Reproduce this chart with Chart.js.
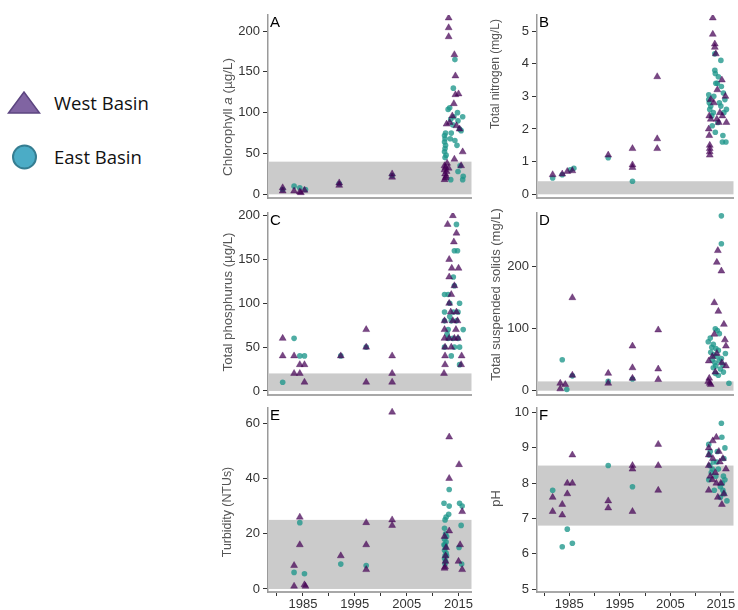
<!DOCTYPE html>
<html>
<head>
<meta charset="utf-8">
<script src="https://cdn.jsdelivr.net/npm/chart.js@4.4.1/dist/chart.umd.min.js"></script>
<style>
  html, body { margin: 0; padding: 0; background: #fff; overflow: hidden; }
  #wrap { position: relative; width: 738px; height: 610px; }
  #wrap canvas { position: absolute; }
  .leg { position: absolute; left: 0; height: 30px; }
  .leg svg { position: absolute; left: 0; top: 0; }
  .leg span { position: absolute; left: 54px; top: 2px; font: 18.5px "Open Sans", sans-serif; color: #111; white-space: nowrap; }
</style>
</head>
<body>
<div id="wrap">
  <div class="leg" style="top:88px">
    <svg width="44" height="30"><polygon points="8.5,25 24,4 39.5,25" fill="#8064a2" stroke="#5c4580" stroke-width="1.5"/></svg>
    <span>West Basin</span>
  </div>
  <div class="leg" style="top:142px">
    <svg width="44" height="30"><circle cx="24.5" cy="15" r="11.5" fill="#4bacc6" stroke="#357d91" stroke-width="2"/></svg>
    <span>East Basin</span>
  </div>
  <canvas id="cA" width="276" height="205" style="left:200px;top:0px"></canvas>
  <canvas id="cB" width="258" height="205" style="left:480px;top:0px"></canvas>
  <canvas id="cC" width="276" height="195" style="left:200px;top:205px"></canvas>
  <canvas id="cD" width="258" height="195" style="left:480px;top:205px"></canvas>
  <canvas id="cE" width="276" height="210" style="left:200px;top:400px"></canvas>
  <canvas id="cF" width="258" height="210" style="left:480px;top:400px"></canvas>
</div>
<script>
// x axis
const xTickYears = [1980, 1985, 1990, 1995, 2000, 2005, 2010, 2015];
const xLabelYears = [1985, 1995, 2005, 2015];

// A - chlorophyll a (ug/L)
const chlTicks = [0, 50, 100, 150, 200];
const chlBand = [0, 40];
const chlWest = [[1981.1, 8], [1981.1, 4], [1983.3, 4], [1984.4, 3], [1984.6, 2], [1985.3, 5], [1992.0, 14], [1992.0, 11],
  [2002.2, 25], [2002.2, 21], [2013.1, 216], [2013.1, 204], [2013.1, 193], [2014.2, 171], [2014.4, 145], [2014.4, 122],
  [2015.0, 123], [2014.1, 111], [2013.8, 96], [2012.7, 86], [2015.8, 52], [2014.2, 43], [2012.3, 35], [2012.5, 33],
  [2012.3, 30], [2012.7, 28], [2012.4, 25], [2012.6, 22], [2012.3, 18], [2013.1, 32], [2015.2, 80], [2013.3, 88],
  [2014.6, 84], [2015.5, 35], [2012.5, 20], [2012.8, 38]];
const chlEast = [[1981.1, 6], [1983.3, 10], [1984.4, 8], [1985.5, 6], [1992.0, 13], [2002.2, 23], [2014.3, 165], [2014.0, 130],
  [2013.3, 106], [2013.0, 104], [2014.8, 100], [2015.8, 95], [2013.5, 92], [2013.9, 85], [2015.2, 80], [2015.5, 78],
  [2012.5, 75], [2012.3, 72], [2012.4, 68], [2012.3, 64], [2012.5, 60], [2012.4, 56], [2012.3, 52], [2012.6, 48],
  [2012.4, 45], [2014.3, 66], [2014.7, 60], [2015.3, 35], [2015.9, 22], [2015.8, 18], [2013.5, 18], [2014.9, 28],
  [2013.4, 68], [2013.6, 75], [2014.1, 95], [2014.9, 90]];

// B - total nitrogen (mg/L)
const nitTicks = [0, 1, 2, 3, 4, 5];
const nitBand = [0, 0.4];
const nitWest = [[1981.7, 0.6], [1983.6, 0.62], [1984.6, 0.7], [1985.6, 0.72], [1992.7, 1.2], [1997.5, 1.4], [1997.5, 0.9],
  [1997.5, 0.82], [2002.4, 3.6], [2002.4, 1.7], [2002.4, 1.4], [2013.4, 5.4], [2013.4, 4.9], [2013.8, 4.6], [2013.8, 4.5],
  [2014.0, 4.3], [2015.2, 3.5], [2014.3, 3.2], [2015.9, 3.0], [2013.6, 2.8], [2014.8, 2.5], [2014.2, 2.3], [2013.0, 2.3],
  [2012.6, 2.0], [2016.1, 2.2], [2014.6, 2.2], [2012.7, 1.8], [2012.8, 1.5], [2012.8, 1.4], [2012.8, 1.3], [2012.8, 1.2],
  [2012.7, 2.4], [2015.3, 2.4], [2013.0, 2.9]];
const nitEast = [[1981.7, 0.5], [1983.6, 0.6], [1985.2, 0.75], [1985.9, 0.8], [1992.7, 1.12], [1997.5, 0.4], [2013.8, 4.3],
  [2015.0, 4.1], [2013.8, 3.8], [2013.9, 3.7], [2014.5, 3.6], [2014.0, 3.4], [2015.1, 3.3], [2015.5, 3.1], [2012.6, 3.05],
  [2012.6, 2.9], [2012.7, 2.8], [2015.0, 2.7], [2016.1, 2.6], [2012.8, 2.6], [2013.5, 2.5], [2015.6, 2.5], [2013.2, 2.4],
  [2014.4, 2.2], [2013.3, 2.1], [2013.9, 1.9], [2015.4, 1.8], [2016.0, 1.6], [2015.3, 1.6], [2013.0, 2.7], [2014.7, 2.8],
  [2015.8, 2.9], [2013.6, 3.0], [2014.3, 3.4]];

// C - total phosphorus (ug/L)
const phoTicks = [0, 50, 100, 150, 200];
const phoBand = [0, 20];
const phoWest = [[1981.1, 60], [1981.1, 40], [1983.3, 40], [1983.3, 20], [1984.4, 30], [1984.4, 20], [1985.3, 30], [1985.3, 10],
  [1992.3, 40], [1997.2, 70], [1997.2, 50], [1997.2, 10], [2002.2, 40], [2002.2, 20], [2002.2, 10], [2013.9, 200],
  [2012.9, 190], [2014.6, 180], [2014.1, 170], [2013.2, 150], [2013.7, 140], [2015.0, 140], [2013.2, 130], [2014.2, 120],
  [2013.6, 110], [2013.2, 100], [2014.6, 90], [2013.9, 80], [2014.8, 80], [2012.3, 70], [2012.3, 60], [2013.2, 60],
  [2014.2, 60], [2013.6, 50], [2012.4, 40], [2015.6, 40], [2012.4, 30], [2015.5, 30], [2012.2, 20], [2012.3, 80],
  [2013.5, 90], [2014.5, 70], [2012.4, 50], [2014.9, 60]];
const phoEast = [[1981.1, 10], [1983.3, 60], [1984.4, 40], [1985.3, 40], [1992.3, 40], [1997.2, 50], [2014.6, 190], [2014.2, 160],
  [2014.8, 160], [2014.0, 130], [2014.2, 120], [2012.3, 110], [2013.0, 110], [2013.3, 100], [2012.3, 90], [2014.0, 90],
  [2014.9, 90], [2012.3, 80], [2013.6, 80], [2014.6, 80], [2013.0, 70], [2015.9, 70], [2013.0, 60], [2013.9, 60],
  [2014.9, 60], [2012.3, 50], [2014.2, 50], [2015.2, 50], [2013.6, 40], [2015.2, 30], [2013.3, 85], [2012.8, 65], [2015.2, 100]];

// D - total suspended solids (mg/L)
const tssTicks = [0, 100, 200];
const tssBand = [0, 15];
const tssWest = [[1983.2, 12], [1983.2, 3], [1984.2, 10], [1985.6, 150], [1985.6, 25], [1992.7, 28], [1992.7, 12], [1997.5, 72],
  [1997.5, 37], [1997.5, 20], [2002.6, 98], [2002.6, 35], [2002.6, 18], [2014.4, 226], [2014.2, 207], [2015.1, 193],
  [2013.7, 142], [2014.5, 128], [2015.6, 107], [2013.7, 91], [2015.8, 82], [2016.0, 72], [2013.3, 55], [2012.6, 48],
  [2016.0, 40], [2012.7, 20], [2012.5, 15], [2012.8, 12], [2013.0, 10], [2014.2, 60], [2013.9, 30], [2015.2, 45]];
const tssEast = [[1983.6, 50], [1984.5, 2], [1985.6, 24], [1992.7, 15], [1997.5, 19], [2015.1, 282], [2015.1, 237], [2013.9, 100],
  [2014.3, 97], [2014.7, 92], [2012.5, 79], [2013.5, 75], [2013.2, 70], [2014.0, 68], [2014.5, 65], [2013.0, 62],
  [2013.6, 58], [2014.2, 55], [2015.1, 52], [2013.3, 50], [2014.7, 48], [2013.8, 45], [2015.4, 42], [2014.0, 40],
  [2013.5, 37], [2014.9, 35], [2015.5, 30], [2013.9, 28], [2016.6, 12], [2012.9, 85], [2015.9, 60], [2014.5, 25]];

// E - turbidity (NTUs)
const turTicks = [0, 20, 40, 60];
const turBand = [0, 25];
const turWest = [[1983.3, 8.5], [1983.3, 1], [1984.4, 26], [1984.4, 16], [1985.3, 1.5], [1985.5, 1], [1992.3, 12], [1997.2, 24],
  [1997.2, 16], [1997.2, 7], [2002.2, 64], [2002.2, 25], [2002.2, 23], [2013.2, 55], [2015.1, 45], [2013.2, 40],
  [2015.7, 28], [2013.2, 21], [2012.3, 19], [2015.3, 16], [2012.5, 12], [2015.0, 10], [2012.4, 8], [2015.7, 7],
  [2012.6, 15], [2012.3, 7.5], [2012.5, 10]];
const turEast = [[1983.3, 6], [1984.4, 24], [1985.3, 5.5], [1992.3, 9], [1997.2, 8.5], [2013.2, 36], [2012.2, 31], [2013.2, 30],
  [2015.2, 31], [2015.7, 30], [2013.1, 27], [2012.6, 26], [2012.4, 25], [2015.5, 23], [2012.3, 22], [2012.5, 20],
  [2012.3, 18], [2012.6, 17], [2012.4, 16], [2012.5, 15], [2015.1, 15], [2012.3, 14], [2012.6, 13], [2012.4, 12],
  [2012.3, 11], [2012.5, 10], [2012.4, 9], [2015.6, 9], [2012.7, 12], [2012.2, 16], [2012.7, 19]];

// F - pH
const phTicks = [5, 6, 7, 8, 9, 10];
const phBand = [6.8, 8.5];
const phWest = [[1981.7, 7.6], [1981.7, 7.2], [1983.6, 7.4], [1983.6, 7.1], [1984.6, 8.0], [1984.6, 7.7], [1985.6, 8.8],
  [1985.6, 8.0], [1992.7, 7.5], [1992.7, 7.3], [1997.5, 8.5], [1997.5, 8.4], [1997.5, 7.2], [2002.6, 9.1], [2002.6, 8.5],
  [2002.6, 7.8], [2014.1, 9.3], [2013.4, 9.2], [2012.6, 9.0], [2012.6, 8.8], [2013.4, 8.7], [2015.4, 8.7], [2012.6, 8.5],
  [2014.8, 8.6], [2016.0, 8.4], [2013.9, 8.3], [2012.9, 8.2], [2014.1, 8.0], [2012.6, 7.8], [2015.6, 7.7], [2014.4, 7.6],
  [2015.2, 7.4], [2013.3, 8.1], [2015.0, 8.0], [2014.6, 8.9]];
const phEast = [[1981.7, 7.8], [1983.6, 6.2], [1984.6, 6.7], [1985.6, 6.3], [1992.7, 8.5], [1997.5, 7.9], [2015.1, 9.7],
  [2015.2, 9.3], [2012.6, 9.1], [2015.8, 9.0], [2014.3, 8.9], [2012.7, 8.8], [2015.6, 8.7], [2013.5, 8.6], [2012.8, 8.5],
  [2014.5, 8.4], [2013.1, 8.3], [2015.5, 8.2], [2012.6, 8.1], [2014.0, 8.2], [2015.3, 8.0], [2014.9, 7.9], [2013.7, 7.8],
  [2015.6, 7.7], [2014.9, 7.6], [2016.2, 7.5], [2013.3, 8.4], [2014.2, 8.6], [2015.8, 8.1], [2012.9, 8.9], [2015.4, 7.8]];

// layout of the 3x2 grid (canvas-local numbers)
const cols = [
  { padL: 21, padR: 4, yW: 47, titleX: 28, xMin: 1978.27, xMax: 2017.5 },
  { padL: 9, padR: 0, yW: 48, titleX: 16, xMin: 1978.6, xMax: 2017.5 }
];
const rows = [
  { top: 0, padT: 15, xH: 7, labels: false },
  { top: 205, padT: 8, xH: 5, labels: false },
  { top: 400, padT: 8, xH: 18, labels: true }
];

const panels = [
  { id: 'cA', letter: 'A', col: 0, row: 0, west: chlWest, east: chlEast, ticks: chlTicks, band: chlBand, yMin: -4.5, yMax: 219.6,
    title: [['Chlorophyll ', false], ['a', true], [' (µg/L)', false]], titleY: 117, titleSize: 13.5 },
  { id: 'cB', letter: 'B', col: 1, row: 0, west: nitWest, east: nitEast, ticks: nitTicks, band: nitBand, yMin: -0.113, yMax: 5.49,
    title: [['Total nitrogen (mg/L)', false]], titleY: 74, titleSize: 12 },
  { id: 'cC', letter: 'C', col: 0, row: 1, west: phoWest, east: phoEast, ticks: phoTicks, band: phoBand, yMin: -4.6, yMax: 203,
    title: [['Total phosphurus (µg/L)', false]], titleY: 302, titleSize: 13.2 },
  { id: 'cD', letter: 'D', col: 1, row: 1, west: tssWest, east: tssEast, ticks: tssTicks, band: tssBand, yMin: -6.9, yMax: 286.6,
    title: [['Total suspended solids (mg/L)', false]], titleY: 294.5, titleSize: 13 },
  { id: 'cE', letter: 'E', col: 0, row: 2, west: turWest, east: turEast, ticks: turTicks, band: turBand, yMin: -1.1, yMax: 65.5,
    title: [['Turbidity (NTUs)', false]], titleY: 512, titleSize: 12.4 },
  { id: 'cF', letter: 'F', col: 1, row: 2, west: phWest, east: phEast, ticks: phTicks, band: phBand, yMin: 4.92, yMax: 10.13,
    title: [['pH', false]], titleY: 498.5, titleSize: 13 }
];

const FONT = '"Liberation Sans", Arial, sans-serif';

// grey reference band behind the points
const bandPlugin = {
  id: 'band',
  beforeDatasetsDraw(chart, args, opts) {
    const { ctx, chartArea, scales } = chart;
    const y1 = scales.y.getPixelForValue(opts.range[1]);
    const y0 = scales.y.getPixelForValue(opts.range[0]);
    ctx.save();
    ctx.fillStyle = '#cbcbcb';
    ctx.fillRect(chartArea.left, y1, chartArea.right - chartArea.left, y0 - y1);
    ctx.restore();
  }
};

// panel letter + rotated y title (allows the italic "a")
const labelPlugin = {
  id: 'labels',
  afterDraw(chart, args, opts) {
    const { ctx, chartArea } = chart;
    ctx.save();
    ctx.fillStyle = '#000';
    ctx.font = '15px ' + FONT;
    ctx.textBaseline = 'top';
    ctx.fillText(opts.letter, chartArea.left + 2, chartArea.top);

    ctx.translate(opts.x, opts.y);
    ctx.rotate(-Math.PI / 2);
    ctx.fillStyle = '#555';
    ctx.textBaseline = 'middle';
    let total = 0;
    opts.parts.forEach(p => {
      ctx.font = (p[1] ? 'italic ' : '') + opts.size + 'px ' + FONT;
      total += ctx.measureText(p[0]).width;
    });
    let x = -total / 2;
    opts.parts.forEach(p => {
      ctx.font = (p[1] ? 'italic ' : '') + opts.size + 'px ' + FONT;
      ctx.fillText(p[0], x, 0);
      x += ctx.measureText(p[0]).width;
    });
    ctx.restore();
  }
};

function toPoints(arr) {
  return arr.map(p => ({ x: p[0], y: p[1] }));
}

panels.forEach(p => {
  const col = cols[p.col];
  const row = rows[p.row];
  const ctx = document.getElementById(p.id).getContext('2d');
  new Chart(ctx, {
    type: 'scatter',
    data: {
      datasets: [
        {
          label: 'West Basin',
          data: toPoints(p.west),
          pointStyle: 'triangle',
          pointRadius: 4,
          backgroundColor: 'rgba(68,1,84,0.72)',
          borderColor: 'rgba(68,1,84,0.72)',
          borderWidth: 0.5,
          order: 0
        },
        {
          label: 'East Basin',
          data: toPoints(p.east),
          pointStyle: 'circle',
          pointRadius: 2.8,
          backgroundColor: 'rgba(30,150,138,0.78)',
          borderWidth: 0,
          order: 1
        }
      ]
    },
    options: {
      responsive: false,
      devicePixelRatio: 1,
      animation: false,
      events: [],
      layout: { padding: { left: col.padL, right: col.padR, top: row.padT, bottom: 0 } },
      plugins: {
        legend: { display: false },
        tooltip: { enabled: false },
        band: { range: p.band },
        labels: { letter: p.letter, parts: p.title, x: col.titleX, y: p.titleY - row.top, size: p.titleSize }
      },
      scales: {
        x: {
          type: 'linear',
          min: col.xMin,
          max: col.xMax,
          afterBuildTicks: s => { s.ticks = xTickYears.map(v => ({ value: v })); },
          afterFit: s => { s.height = row.xH; s.paddingLeft = 0; s.paddingRight = 0; },
          ticks: {
            display: row.labels,
            autoSkip: false,
            maxRotation: 0,
            padding: 1,
            color: '#333',
            font: { family: FONT, size: 13 },
            callback: v => xLabelYears.includes(v) ? String(v) : ''
          },
          grid: { display: row.labels, drawOnChartArea: false, drawTicks: true, tickLength: 4, tickColor: '#333', tickWidth: 1 },
          border: { display: true, color: '#a8a8a8', width: 2 }
        },
        y: {
          type: 'linear',
          min: p.yMin,
          max: p.yMax,
          afterBuildTicks: s => { s.ticks = p.ticks.map(v => ({ value: v })); },
          afterFit: s => { s.width = col.yW; s.paddingTop = 0; s.paddingBottom = 0; },
          ticks: {
            autoSkip: false,
            padding: 3,
            color: '#333',
            font: { family: FONT, size: 13 },
            callback: v => String(v)
          },
          grid: { display: true, drawOnChartArea: false, drawTicks: true, tickLength: 5, tickColor: '#333', tickWidth: 1 },
          border: { display: true, color: '#9a9a9a', width: 1.5 }
        }
      }
    },
    plugins: [bandPlugin, labelPlugin]
  });
});
</script>
</body>
</html>
